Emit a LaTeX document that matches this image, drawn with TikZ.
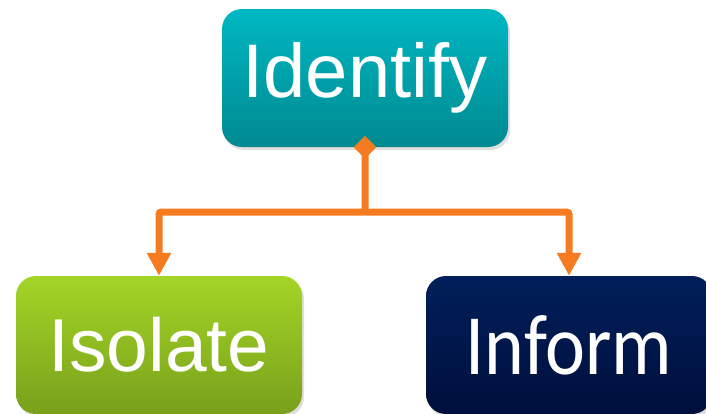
\documentclass[tikz,border=0pt]{standalone}
\usepackage{fontspec}
\setmainfont{Liberation Sans}
\newfontfamily\informfont{Carlito}
\usepackage{xcolor}
\usepackage{tikz}
\usetikzlibrary{shapes.geometric, arrows.meta, shadows}
\definecolor{tealtop}{RGB}{0,184,194}
\definecolor{tealbot}{RGB}{0,137,145}
\definecolor{greentop}{RGB}{164,213,38}
\definecolor{greenbot}{RGB}{121,160,27}
\definecolor{navytop}{RGB}{0,31,90}
\definecolor{navybot}{RGB}{0,15,60}
\definecolor{linkorange}{RGB}{244,123,32}
\tikzstyle{card} = [rectangle, rounded corners=20pt, minimum width=286pt, minimum height=138pt, text centered, text=white, drop shadow={opacity=0.25, shadow xshift=2pt, shadow yshift=-3pt}]
\tikzstyle{identifycard} = [card, top color=tealtop, bottom color=tealbot, font=\fontsize{76}{80}\selectfont]
\tikzstyle{isolatecard} = [card, top color=greentop, bottom color=greenbot, font=\fontsize{75}{80}\selectfont]
\tikzstyle{informcard} = [card, top color=navytop, bottom color=navybot, font=\informfont\fontsize{86}{90}\selectfont]
\tikzstyle{link} = [line width=7pt, draw=linkorange, rounded corners=2pt, -{Triangle[length=23pt, width=23pt]}]
\tikzstyle{joint} = [diamond, fill=linkorange, inner sep=0pt, minimum size=23pt]

\begin{document}
\begin{tikzpicture}[node distance=267pt]
    \useasboundingbox (0pt,0pt) rectangle (706pt,-413pt);
    \clip (0pt,0pt) rectangle (706pt,-413pt);
    \node (identify) [identifycard] at (365pt,-78pt) {Identify};
    \node (isolate) [isolatecard, below of=identify, xshift=-206pt] {Isolate};
    \node (inform) [informcard, below of=identify, xshift=204pt] {\scalebox{0.88}[1]{Inform}};
    \node (split) [joint] at (identify.south) {};
    \coordinate (branch) at ([yshift=-65pt]identify.south);
    \draw [link] (split.center) -- (branch) -| (isolate.north);
    \draw [link] (branch) -| (inform.north);
\end{tikzpicture}
\end{document}
